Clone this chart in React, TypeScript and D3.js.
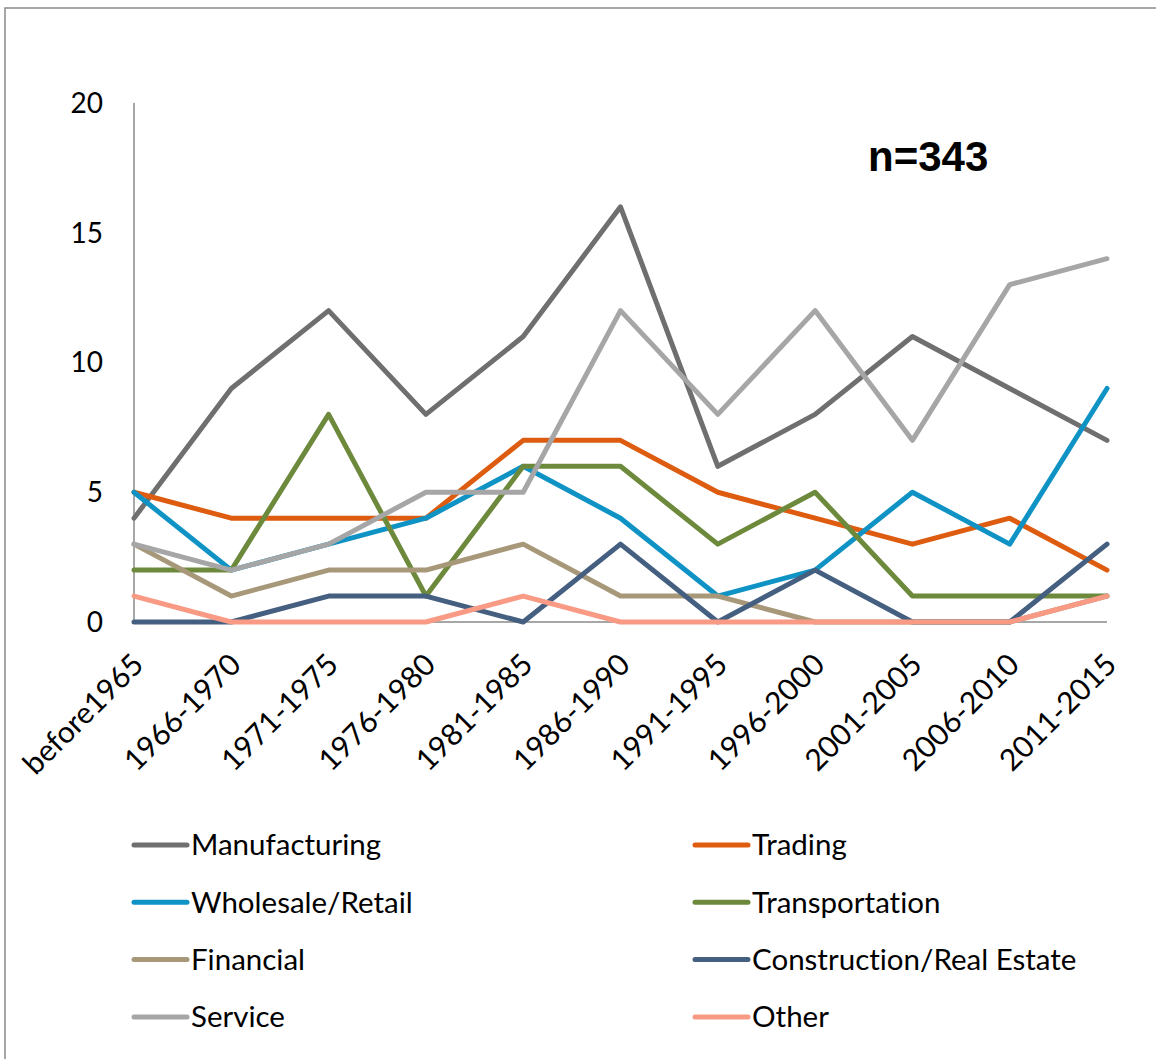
import React from "react";
import * as d3 from "d3";

const categories = ["before1965","1966-1970","1971-1975","1976-1980","1981-1985","1986-1990","1991-1995","1996-2000","2001-2005","2006-2010","2011-2015"];
const manufacturing = [4, 9, 12, 8, 11, 16, 6, 8, 11, 9, 7];
const trading = [5, 4, 4, 4, 7, 7, 5, 4, 3, 4, 2];
const wholesale = [5, 2, 3, 4, 6, 4, 1, 2, 5, 3, 9];
const transportation = [2, 2, 8, 1, 6, 6, 3, 5, 1, 1, 1];
const financial = [3, 1, 2, 2, 3, 1, 1, 0, 0, 0, 1];
const construction = [0, 0, 1, 1, 0, 3, 0, 2, 0, 0, 3];
const service = [3, 2, 3, 5, 5, 12, 8, 12, 7, 13, 14];
const other = [1, 0, 0, 0, 1, 0, 0, 0, 0, 0, 1];
const yTicks = [0, 5, 10, 15, 20];

const series = [
  { name: "Manufacturing", values: manufacturing, color: "#6f6f6f" },
  { name: "Trading", values: trading, color: "#dd5c10" },
  { name: "Wholesale/Retail", values: wholesale, color: "#0f93c5" },
  { name: "Transportation", values: transportation, color: "#6d8a3c" },
  { name: "Financial", values: financial, color: "#a8987a" },
  { name: "Construction/Real Estate", values: construction, color: "#455f80" },
  { name: "Service", values: service, color: "#a6a6a6" },
  { name: "Other", values: other, color: "#f89a84" },
];

export default function App() {
  const W = 1156, H = 1059;
  const x = d3.scalePoint<string>().domain(categories).range([134, 1107]);
  const y = d3.scaleLinear().domain([0, 20]).range([622, 103]);
  const line = d3.line<number>().x((_, i) => x(categories[i]) as number).y((d) => y(d));
  const font = "Lato, 'Noto Sans', sans-serif";
  const noLig = { fontVariantLigatures: "none" as const, fontFeatureSettings: "'liga' 0, 'clig' 0" };
  return (
    <svg width={W} height={H} style={{ position: "absolute", left: 0, top: 0, background: "#fff" }}>
      <rect x={5} y={8} width={1170} height={1070} fill="#fff" stroke="#8a8a8a" strokeWidth={1.5} />
      <line x1={134} x2={134} y1={y(20)} y2={y(0)} stroke="#8a8a8a" strokeWidth={1.5} />
      <line x1={134} x2={1107} y1={y(0)} y2={y(0)} stroke="#8a8a8a" strokeWidth={1.5} />
      {yTicks.map((t) => (
        <text key={t} x={103} y={y(t)} dy="0.35em" textAnchor="end" fontFamily={font} fontSize={28} fill="#000">{t}</text>
      ))}
      {categories.map((c) => (
        <text key={c} transform={`translate(${(x(c) as number) + 4},${659}) rotate(-45)`} textAnchor="end" dy="0.35em" fontFamily={font} fontSize={30} fill="#000">{c}</text>
      ))}
      {series.map((s) => (
        <path key={s.name} d={line(s.values) as string} fill="none" stroke={s.color} strokeWidth={5} strokeLinejoin="round" strokeLinecap="round" />
      ))}
      <text x={868} y={171} fontFamily="'Liberation Sans', Arial, sans-serif" fontWeight="bold" fontSize={42} fill="#000">n=343</text>
      {series.map((s, i) => {
        const col = i % 2, row = Math.floor(i / 2);
        const lx = col === 0 ? 134 : 695;
        const ly = 845 + row * 57.3;
        return (
          <g key={s.name}>
            <line x1={lx} x2={lx + 53} y1={ly} y2={ly} stroke={s.color} strokeWidth={5} strokeLinecap="round" />
            <text x={lx + 57} y={ly} dy="0.35em" fontFamily={font} fontSize={29.5} fill="#000" style={noLig}>{s.name}</text>
          </g>
        );
      })}
    </svg>
  );
}
